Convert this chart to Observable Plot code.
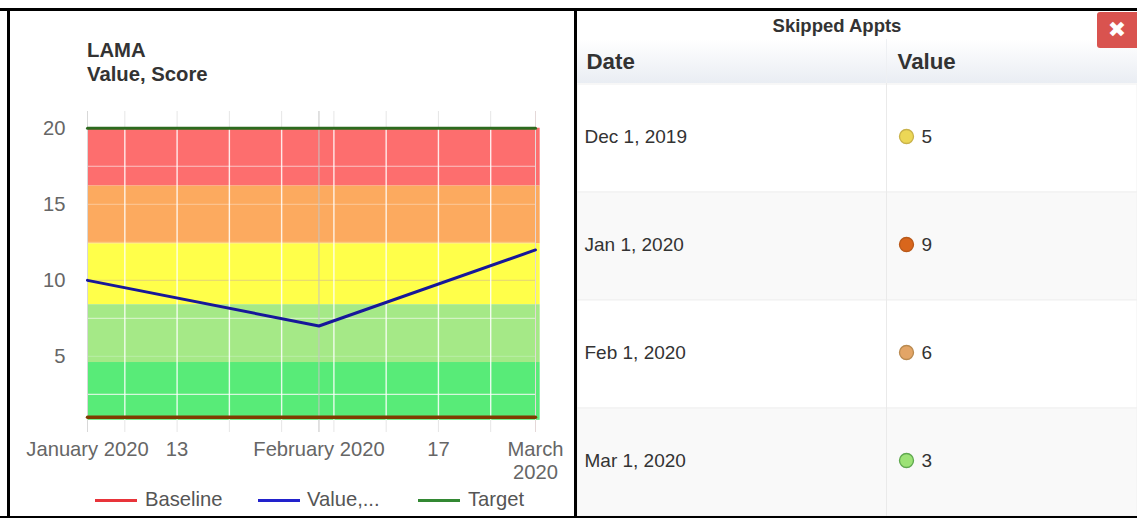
<!DOCTYPE html>
<html>
<head>
<meta charset="utf-8">
<script src="https://cdn.jsdelivr.net/npm/d3@7"></script>
<script src="https://cdn.jsdelivr.net/npm/@observablehq/plot@0.6"></script>
<style>
  html,body{margin:0;padding:0;background:#fff;}
  body{width:1137px;height:519px;position:relative;overflow:hidden;font-family:"Liberation Sans",Arial,sans-serif;}
  .abs{position:absolute;}
  .bar{position:absolute;background:#000;}
  #chartTitle{left:87px;top:38px;font-weight:bold;font-size:20.3px;line-height:24px;color:#333;}
  #legend span{position:absolute;font-size:20.2px;line-height:20px;color:#555;white-space:nowrap;}
  #legend i{position:absolute;height:3px;width:42px;}
  #tableTitle{left:577px;width:520px;top:15px;text-align:center;font-weight:bold;font-size:18.5px;line-height:22px;color:#333;}
  #head{left:577px;top:39px;width:560px;height:44px;background:linear-gradient(#ffffff,#e9edf3);}
  #headLine{left:886px;top:39px;width:1px;height:44px;background:#eef0f3;}
  #close{left:1097px;top:12px;width:40px;height:36px;background:#d9534f;border-radius:3px 0 0 3px;color:#fff;text-align:center;font:bold 22px/36px "DejaVu Sans",sans-serif;}
  #left,#right{position:absolute;top:0;}
  #left{left:0;}
  #right{left:577px;}
  svg{display:block;background:transparent;overflow:visible;}
</style>
</head>
<body>
<div id="head" class="abs"></div>
<div id="headLine" class="abs"></div>
<div id="left"></div>
<div id="right"></div>
<div class="bar" style="left:0;top:8px;width:1137px;height:3px"></div>
<div class="bar" style="left:0;top:516px;width:1137px;height:2px"></div>
<div class="bar" style="left:7px;top:8px;width:3px;height:510px"></div>
<div class="bar" style="left:574px;top:8px;width:3px;height:510px"></div>
<div id="chartTitle" class="abs">LAMA<br>Value, Score</div>
<div id="tableTitle" class="abs">Skipped Appts</div>
<div id="close" class="abs">✖</div>
<div id="legend">
  <i style="left:95px;top:499px;background:#e8343a"></i><span style="left:145px;top:489px">Baseline</span>
  <i style="left:258px;top:499px;background:#2222cc"></i><span style="left:307px;top:489px">Value,...</span>
  <i style="left:418px;top:499px;background:#338833"></i><span style="left:468px;top:489px">Target</span>
</div>
<script>
// Line chart
const seriesDates = ["2020-01-01", "2020-02-01", "2020-03-01"];
const baselineValues = [1, 1, 1];
const scoreValues = [10, 7, 12];
const targetValues = [20, 20, 20];
const bandEdges = [20, 16.2, 12.4, 8.4, 4.6, 0.8];
const bandColors = ["#fd6e6e", "#fcaa5f", "#ffff4a", "#a5e987", "#58eb78"];
const bandEndDate = "2020-03-01T15:00Z";
const yGrid = [17.5, 15, 12.5, 10, 7.5, 5, 2.5];
const yGridColors = ["#fbc4c4", "#fcc28d", "#fdc87f", "#e9dc6c", "#d2f3c3", "#b5eda0", "#d5f8dc"];
const yTicks = [5, 10, 15, 20];
const weekTicks = ["2020-01-06", "2020-01-13", "2020-01-20", "2020-01-27", "2020-02-03", "2020-02-10", "2020-02-17", "2020-02-24"];
const xLabelDates = ["2020-01-01", "2020-01-13", "2020-02-01", "2020-02-17", "2020-03-01"];
const xLabels = ["January 2020", "13", "February 2020", "17", "March\n2020"];

// Table
const tableDates = ["Dec 1, 2019", "Jan 1, 2020", "Feb 1, 2020", "Mar 1, 2020"];
const tableValues = [5, 9, 6, 3];
const tableColumns = ["Date", "Value"];
const dotColors = ["#ecd756", "#d9661c", "#e3a566", "#9ce276"];
const dotEdges = ["#c9b24a", "#b9591a", "#b98a50", "#5fa84f"];
const rowColors = ["#ffffff", "#f9f9f9", "#ffffff", "#f9f9f9"];

const d = s => new Date(s);
const series = vals => seriesDates.map((t, i) => ({date: d(t), v: vals[i]}));
const bands = bandColors.map((c, i) => ({top: bandEdges[i], bottom: bandEdges[i + 1], fill: c}));
const gridLo = 0, gridHi = 21.1;

const left = Plot.plot({
  width: 574, height: 519,
  marginLeft: 87, marginRight: 39, marginTop: 111, marginBottom: 87,
  style: {background: "transparent", fontFamily: "'Liberation Sans',Arial,sans-serif", fontSize: "20.2px"},
  x: {type: "utc", domain: [d(seriesDates[0]), d(seriesDates[2])], label: null},
  y: {domain: [gridLo, gridHi], label: null},
  marks: [
    Plot.ruleX(weekTicks.map(d), {y1: gridLo, y2: gridHi, stroke: "#e6e6e6", strokeWidth: 1}),
    Plot.rect(bands, {x1: () => d(seriesDates[0]), x2: () => d(bandEndDate), y1: "bottom", y2: "top", fill: "fill"}),
    Plot.ruleY(yGrid, {x1: () => d(seriesDates[0]), x2: () => d(seriesDates[2]), stroke: (v, i) => yGridColors[i], strokeWidth: 1.2}),
    Plot.ruleX(weekTicks.map(d), {y1: bandEdges[5], y2: bandEdges[0], stroke: "#ffffff", strokeOpacity: 0.85, strokeWidth: 1.4}),
    Plot.ruleX([d(seriesDates[1])], {y1: gridLo, y2: gridHi, stroke: "#c4c4c4", strokeWidth: 1}),
    Plot.ruleX([d(seriesDates[0])], {y1: gridLo, y2: gridHi, stroke: "#d8d8d8", strokeWidth: 1}),
    Plot.ruleX([d(seriesDates[2])], {y1: gridLo, y2: gridHi, stroke: "#e4d8d8", strokeWidth: 1}),
    Plot.line(series(targetValues), {x: "date", y: "v", stroke: "#2c6a1e", strokeWidth: 3}),
    Plot.line(series(baselineValues), {x: "date", y: "v", stroke: "#7f3c00", strokeWidth: 3.4}),
    Plot.line(series(scoreValues), {x: "date", y: "v", stroke: "#17179a", strokeWidth: 3}),
    Plot.axisY(yTicks, {tickSize: 0, tickPadding: 22, label: null, fill: "#666", fontSize: 20.2}),
    Plot.axisX(xLabelDates.map(d), {
      tickSize: 0, tickPadding: 7, label: null, fill: "#666", fontSize: 20.2, lineHeight: 1.15,
      tickFormat: (t, i) => xLabels[i]
    })
  ]
});
document.getElementById("left").append(left);

const rows = tableDates.map((date, i) => ({date, value: tableValues[i], dot: dotColors[i], edge: dotEdges[i], row: rowColors[i]}));
const right = Plot.plot({
  width: 560, height: 517,
  marginLeft: 0, marginRight: 0, marginTop: 83, marginBottom: 0,
  style: {background: "transparent", fontFamily: "'Liberation Sans',Arial,sans-serif", fontSize: "19px"},
  x: {type: "point", domain: tableColumns, range: [9, 320], padding: 0, label: null},
  y: {type: "band", domain: tableDates, padding: 0, label: null, axis: null},
  marks: [
    Plot.cell(rows, {y: "date", fill: "row", stroke: "#f0f0f0", strokeWidth: 1}),
    Plot.ruleX(["Value"], {dx: -11, stroke: "#eaeaea", strokeWidth: 1}),
    Plot.axisX({anchor: "top", tickSize: 0, tickPadding: 15, label: null, textAnchor: "start", fontWeight: "bold", fontSize: 22.3, fill: "#333"}),
    Plot.text(rows, {x: () => "Date", y: "date", text: "date", textAnchor: "start", dx: -2, dy: -2, fill: "#333", fontSize: 19}),
    Plot.dot(rows, {x: () => "Value", y: "date", r: 7, dx: 9, dy: -2, fill: "dot", stroke: "edge", strokeWidth: 1.3}),
    Plot.text(rows, {x: () => "Value", y: "date", text: "value", textAnchor: "start", dx: 24, dy: -2, fill: "#333", fontSize: 19})
  ]
});
document.getElementById("right").append(right);
</script>
</body>
</html>
